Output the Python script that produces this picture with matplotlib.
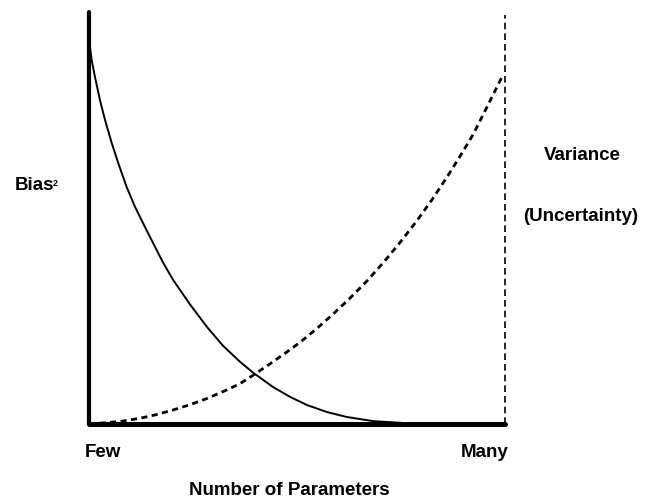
import matplotlib
matplotlib.use("Agg")
import matplotlib.pyplot as plt

# ── Data (x: few -> many, y: 0 -> top) ───────────────────────────────────────
bias_x = [0.0, 0.0024, 0.0065, 0.0144, 0.0264, 0.0385, 0.0546, 0.0704,
          0.0906, 0.1106, 0.1346, 0.1587, 0.178, 0.202, 0.243, 0.284,
          0.322, 0.363, 0.394, 0.442, 0.483, 0.524, 0.572, 0.620, 0.683,
          0.764, 0.85, 1.0]
bias_y = [0.97, 0.915, 0.883, 0.842, 0.786, 0.738, 0.682, 0.633,
          0.575, 0.527, 0.478, 0.430, 0.392, 0.350, 0.290, 0.235,
          0.190, 0.151, 0.125, 0.090, 0.066, 0.046, 0.029, 0.017, 0.007,
          0.002, 0.0, 0.0]

var_x = [0.0, 0.0745, 0.123, 0.163, 0.202, 0.243, 0.284, 0.332, 0.363,
         0.394, 0.435, 0.476, 0.507, 0.548, 0.587, 0.627, 0.668, 0.707,
         0.748, 0.788, 0.827, 0.861, 0.892, 0.923, 0.957, 0.995]
var_y = [0.0, 0.006, 0.014, 0.023, 0.034, 0.047, 0.062, 0.083, 0.098,
         0.118, 0.146, 0.175, 0.198, 0.232, 0.267, 0.305, 0.347, 0.391,
         0.441, 0.493, 0.548, 0.600, 0.650, 0.702, 0.770, 0.847]

x_labels = ["Few", "Many"]
x_title = "Number of Parameters"
left_label = "Bias"
left_sup = "2"
right_labels = ["Variance", "(Uncertainty)"]

W, H = 650, 503
FAMILY = ["Liberation Sans", "DejaVu Sans"]
FONT = dict(family=FAMILY, weight="bold", size=13.5)

fig = plt.figure(figsize=(W / 100, H / 100), dpi=100)
fig.patch.set_facecolor("white")

# axes box in pixel terms: x 89..505, y 12..424 (from top)
ax = fig.add_axes([89 / W, 1 - 424 / H, 416 / W, 412 / H])
ax.set_xlim(0, 1)
ax.set_ylim(0, 1)
ax.set_xticks([])
ax.set_yticks([])
for side in ("top", "right"):
    ax.spines[side].set_visible(False)
ax.spines["left"].set_linewidth(3.0)
ax.spines["bottom"].set_linewidth(3.6)
for side in ("left", "bottom"):
    ax.spines[side].set_capstyle("round")

# curves
ax.plot(bias_x, bias_y, color="black", lw=1.4,
        solid_joinstyle="round", clip_on=False)
ax.plot(var_x, var_y, color="black", lw=2.0, ls=(0, (2.2, 1.6)),
        clip_on=False)

# right-hand dashed boundary
ax.plot([1.0, 1.0], [0.0, 0.993], color="black", lw=1.2, ls=(0, (4, 2.4)),
        clip_on=False)

# ── Text ─────────────────────────────────────────────────────────────────────
def px(x, y):
    return x / W, 1 - y / H

t_bias = fig.text(*px(15, 190), left_label, ha="left", va="baseline", **FONT)
ax.annotate(left_sup, xy=(1, 1), xycoords=t_bias,
            xytext=(-1.0, -1.5), textcoords="offset points",
            ha="left", va="top", family=FAMILY, weight="bold", size=6.5)
fig.text(*px(582, 160), right_labels[0], ha="center", va="baseline", **FONT)
fig.text(*px(581, 221), right_labels[1], ha="center", va="baseline", **FONT)
fig.text(*px(85, 457), x_labels[0], ha="left", va="baseline", **FONT)
fig.text(*px(508, 457), x_labels[1], ha="right", va="baseline", **FONT)
fig.text(*px(289, 495), x_title, ha="center", va="baseline", **FONT)

fig.savefig("out.png", dpi=100)
